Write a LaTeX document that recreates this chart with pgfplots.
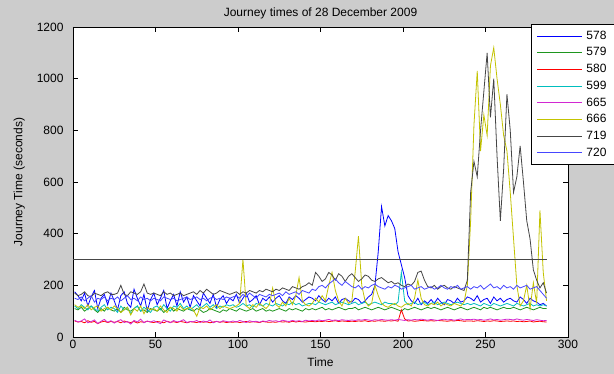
\documentclass[border=0pt]{standalone}
\usepackage{fontspec}
\setmainfont{Liberation Sans}
\usepackage{pgfplots}
\usepackage{pgfplotstable}
\pgfplotsset{compat=1.18}
\definecolor{bgc}{RGB}{204,204,204}
\definecolor{cA}{RGB}{0,0,255}
\definecolor{cB}{RGB}{30,150,30}
\definecolor{cC}{RGB}{255,0,0}
\definecolor{cD}{RGB}{0,190,190}
\definecolor{cE}{RGB}{210,40,210}
\definecolor{cF}{RGB}{195,195,0}
\definecolor{cG}{RGB}{70,70,70}
\definecolor{cH}{RGB}{70,70,255}
\definecolor{hl}{RGB}{70,70,70}

\pgfplotstableread{
x b578 g579 r580 c599 m665 y666 k719 b720
1 175 110 62 120 65 125 170 150
3 160 105 58 110 58 115 160 145
5 140 115 60 125 62 120 165 155
7 170 100 55 115 70 110 175 140
9 120 110 63 105 55 125 160 150
11 155 120 57 120 60 105 155 160
13 180 105 60 110 66 115 170 135
15 110 95 52 100 52 120 165 150
17 150 110 58 115 61 100 160 145
19 165 100 61 125 68 110 170 155
21 125 115 56 105 57 115 175 140
23 170 105 60 115 63 105 165 150
25 140 100 57 110 54 120 165 145
27 105 110 60 95 62 110 170 155
29 160 95 55 120 67 95 200 140
31 175 115 62 105 56 105 165 150
33 130 105 58 115 60 115 160 160
35 115 100 56 90 50 85 175 145
37 185 110 60 110 64 110 170 150
39 150 120 54 120 58 100 165 140
41 120 100 59 100 69 120 175 155
43 165 105 57 115 55 90 205 145
45 100 95 61 105 62 115 170 150
47 145 110 58 95 58 105 165 140
49 170 105 56 115 63 110 170 150
51 125 100 60 120 57 100 165 145
53 150 110 58 105 52 120 160 140
55 180 95 55 125 66 105 175 155
57 110 105 61 110 60 95 165 150
59 140 115 57 100 55 115 170 145
61 165 100 59 120 64 110 160 150
63 120 110 56 115 58 100 165 140
65 175 105 60 130 61 120 170 145
67 135 100 58 110 67 105 160 150
69 155 110 55 120 56 110 165 155
71 115 105 59 105 60 115 170 145
73 160 100 58 115 59 105 175 150
75 140 110 56 125 64 80 165 155
77 120 105 60 110 56 115 180 145
79 170 95 57 120 62 110 170 150
81 150 100 59 130 58 120 185 140
83 130 110 55 115 66 105 175 150
85 165 105 58 125 55 115 165 155
87 115 100 60 110 61 125 170 145
89 145 95 57 120 57 110 180 150
91 160 105 59 115 63 120 175 145
93 130 100 56 125 60 115 170 155
95 150 110 58 120 58 110 165 150
97 140 105 57 125 62 115 170 155
99 165 100 59 115 58 120 175 160
101 130 110 56 120 64 130 165 150
103 150 105 58 130 60 300 175 165
105 170 100 60 120 56 120 170 155
107 135 105 57 125 63 110 180 170
109 145 110 59 115 59 125 175 160
111 160 100 58 130 61 115 170 150
113 125 105 56 125 57 130 180 165
115 150 110 60 120 62 120 175 160
117 140 100 58 130 60 110 185 155
119 155 105 57 125 64 125 180 165
121 135 100 58 120 61 190 175 160
123 150 105 57 130 63 125 185 165
125 160 110 60 125 59 115 180 170
127 140 105 58 120 65 135 190 160
129 130 100 59 130 62 120 185 175
131 155 110 57 125 60 150 180 165
133 145 105 61 135 64 125 195 170
135 160 110 58 125 61 160 190 175
137 150 105 60 130 63 230 185 165
139 135 100 59 120 60 140 195 180
141 145 110 58 125 65 125 200 175
143 155 105 60 130 62 120 210 170
145 150 110 60 130 64 130 200 185
147 140 105 59 125 62 150 250 180
149 160 110 61 135 66 135 235 195
151 145 115 60 130 63 160 215 200
153 135 105 62 125 65 140 225 190
155 150 110 60 130 68 200 250 205
157 140 105 61 135 64 250 240 215
159 155 110 63 125 66 180 220 225
161 130 115 60 130 63 140 245 210
163 145 110 62 135 67 120 235 200
165 150 105 61 130 65 150 215 215
167 140 110 60 125 64 130 235 205
169 135 110 61 130 66 140 245 195
171 150 115 60 135 64 250 230 190
173 145 105 62 125 67 390 215 200
175 130 110 61 130 65 200 225 185
177 140 115 63 135 68 140 240 195
179 155 110 60 125 66 120 235 190
181 165 105 62 130 64 130 220 200
183 200 110 61 135 67 200 215 205
185 330 115 63 130 65 160 225 195
187 505 110 62 125 68 130 230 190
189 430 105 61 135 66 120 220 185
191 470 110 63 130 65 115 210 195
193 450 115 62 130 67 125 215 190
195 420 110 64 125 65 130 205 200
197 330 105 61 135 68 120 210 195
199 280 100 105 250 66 115 200 185
201 230 110 70 140 64 125 195 190
203 160 105 62 125 67 130 205 195
205 140 110 63 130 65 120 200 200
207 130 115 61 135 68 150 215 185
209 150 110 62 125 66 220 250 190
211 125 105 64 130 69 150 255 195
213 140 110 63 135 67 125 220 185
215 130 115 62 125 65 120 195 190
217 145 110 63 130 68 130 190 195
219 130 115 62 135 66 125 200 185
221 150 110 64 125 64 135 185 190
223 135 105 63 130 67 120 195 200
225 125 110 62 135 69 130 200 190
227 145 115 61 130 66 125 190 185
229 140 110 63 125 68 120 185 195
231 130 105 62 130 65 130 195 190
233 150 110 64 135 67 125 190 200
235 135 115 63 130 70 120 185 185
237 140 110 61 125 66 135 180 190
239 155 105 62 130 68 200 220 195
241 150 110 62 125 67 450 560 185
243 140 115 61 130 69 820 680 195
245 160 110 63 125 66 1030 620 190
247 135 105 62 120 68 720 800 200
249 145 115 60 130 65 860 950 185
251 150 110 62 125 67 780 1100 195
253 130 115 61 120 70 1050 850 205
255 155 110 63 130 66 1120 1000 190
257 140 105 62 125 68 1000 700 195
259 150 110 60 120 65 900 450 185
261 135 115 61 125 67 780 650 200
263 145 110 62 130 69 720 940 190
265 150 110 61 125 68 560 800 195
267 140 115 62 120 66 380 560 185
269 135 110 60 130 70 200 620 200
271 155 105 61 125 67 120 740 190
273 145 110 59 120 65 140 600 195
275 130 115 60 125 68 200 450 200
277 150 110 62 130 66 110 380 185
279 140 105 58 120 64 210 260 190
281 135 110 60 125 67 130 220 195
283 125 115 61 120 65 490 190 180
285 130 110 59 125 63 250 210 165
287 120 110 58 120 64 140 170 150
}\jt

\begin{document}
\begin{tikzpicture}
\useasboundingbox (0,0) rectangle (614pt,374pt);
\fill[bgc] (0,0) rectangle (614pt,374pt);
\begin{scope}
\clip (0,0) rectangle (614pt,374pt);
\begin{axis}[
  at={(73pt,37pt)}, anchor=south west,
  scale only axis, width=495pt, height=310pt,
  xmin=0, xmax=300, ymin=0, ymax=1200,
  xtick={0,50,...,300}, ytick={0,200,...,1200},
  tick align=inside, tick pos=both, major tick length=5pt,
  axis line style={line width=0.8pt, black},
  every tick/.style={black, line width=0.8pt},
  axis background/.style={fill=white},
  font=\fontsize{12}{14}\selectfont,
  /pgf/number format/assume math mode=true,
  /pgf/number format/1000 sep={},
  every axis title shift=0pt,
  title={Journey times of 28 December 2009},
  title style={at={(0.5,1)}, anchor=base, yshift=10pt},
  xlabel={Time},
  xlabel style={at={(0.5,0)}, anchor=base, yshift=-29.3pt},
  ylabel={Journey Time (seconds)},
  ylabel style={at={(0,0.5)}, anchor=base, yshift=50.7pt},
  yticklabel style={xshift=-6pt},
  legend style={at={(0.9253,1.0097)}, anchor=north west, draw=black, line width=0.8pt, fill=white,
    font=\fontsize{12}{14}\selectfont, inner xsep=5.5pt, inner ysep=3.3pt,
    nodes={text height=8.5pt, text depth=2pt, inner ysep=3.1pt, inner xsep=3.5pt}},
  legend cell align=left,
  every axis plot post/.append style={line width=0.8pt,
    legend image code/.code={\draw[##1, line width=1pt] (0pt,0pt) -- (45pt,0pt);}},
  clip=true,
]
\addplot[cA] table[x=x,y=b578] {\jt};
\addplot[cB] table[x=x,y=g579] {\jt};
\addplot[cC] table[x=x,y=r580] {\jt};
\addplot[cD] table[x=x,y=c599] {\jt};
\addplot[cE] table[x=x,y=m665] {\jt};
\addplot[cF] table[x=x,y=y666] {\jt};
\addplot[cG] table[x=x,y=k719] {\jt};
\addplot[cH] table[x=x,y=b720] {\jt};
\addplot[hl, line width=1.2pt, forget plot] coordinates {(0,300) (287,300)};
\legend{578,579,580,599,665,666,719,720}
\end{axis}
\end{scope}
\end{tikzpicture}
\end{document}
